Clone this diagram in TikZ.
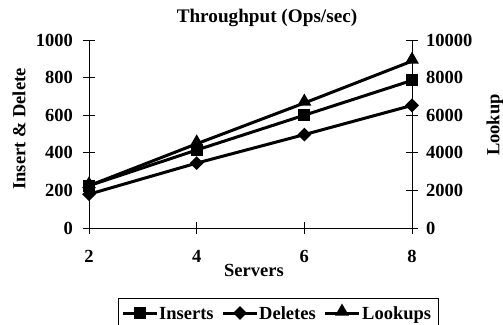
\documentclass[tikz,border=0pt]{standalone}
\usepackage{fontspec}
\setmainfont{Liberation Serif}
\usetikzlibrary{shapes.geometric}
\begin{document}
\begin{tikzpicture}[x=1bp,y=-1bp,
  font=\fontsize{18.5bp}{20bp}\selectfont\bfseries,
  dataline/.style={line width=3bp, line join=round},
  axisline/.style={line width=0.8bp},
  sqmark/.style={fill=black, rectangle, minimum size=12bp, inner sep=0pt},
  diamark/.style={fill=black, diamond, minimum size=14bp, inner sep=0pt},
  trimark/.style={fill=black, regular polygon, regular polygon sides=3, minimum size=16bp, inner sep=0pt},
  ticklabel/.style={inner sep=1pt},
  legtext/.style={anchor=base west, inner sep=1pt}]
\useasboundingbox (0,0) rectangle (503,324);
% axes
\coordinate (o) at (89,228);
\coordinate (lt) at (89,40);
\coordinate (r0) at (412,228);
\coordinate (rt) at (412,40);
\draw[axisline] (lt) -- (o) -- (r0) -- (rt);
% left / right ticks
\foreach \k/\lv/\rv in {0/0/0,1/200/2000,2/400/4000,3/600/6000,4/800/8000,5/1000/10000}{
  \pgfmathsetmacro{\yy}{228-37.6*\k}
  \draw[axisline] (83,\yy) -- (95,\yy);
  \draw[axisline] (406,\yy) -- (418,\yy);
  \node[ticklabel, anchor=east] (ll\k) at (74,\yy) {\lv};
  \node[ticklabel, anchor=west] (rl\k) at (425,\yy) {\rv};
}
% x ticks
\foreach \k/\s in {0/2,1/4,2/6,3/8}{
  \pgfmathsetmacro{\xx}{89+107.667*\k}
  \draw[axisline] (\xx,222) -- (\xx,234);
  \node[ticklabel] (xl\k) at (\xx,256) {\s};
}
% titles
\node[font=\fontsize{19.2bp}{21bp}\selectfont\bfseries] (title) at (267,18) {Throughput (Ops/sec)};
\node (xtitle) at (254,270) {Servers};
\node[rotate=90] (ltitle) at (19,129) {Insert \& Delete};
\node[rotate=90] (rtitle) at (495,125) {Lookup};
% data points
\coordinate (i1) at (89,185.7);
\coordinate (i2) at (196.67,150.0);
\coordinate (i3) at (304.33,115.2);
\coordinate (i4) at (412,80.4);
\coordinate (d1) at (89,194.2);
\coordinate (d2) at (196.67,163.1);
\coordinate (d3) at (304.33,134.6);
\coordinate (d4) at (412,105.4);
\coordinate (l1) at (89,185.7);
\coordinate (l2) at (196.67,143.8);
\coordinate (l3) at (304.33,103.0);
\coordinate (l4) at (412,61.1);
\draw[dataline] (d1) -- (d2) -- (d3) -- (d4);
\draw[dataline] (i1) -- (i2) -- (i3) -- (i4);
\draw[dataline] (l1) -- (l2) -- (l3) -- (l4);
\foreach \n in {1,2,3,4}{
  \node[diamark] (dm\n) at (d\n) {};
  \node[sqmark] (im\n) at (i\n) {};
  \node[trimark, yshift=1.5bp] (lm\n) at (l\n) {};
}
% legend
\draw[axisline] (118,298) rectangle (438,325);
\coordinate (ga) at (123,313); \coordinate (gb) at (157,313);
\coordinate (ha) at (223,313); \coordinate (hb) at (257,313);
\coordinate (ka) at (325,313); \coordinate (kb) at (359,313);
\draw[dataline] (ga) -- (gb);
\draw[dataline] (ha) -- (hb);
\draw[dataline] (ka) -- (kb);
\node[sqmark] (g1) at (140,313) {};
\node[diamark] (g2) at (240,313) {};
\node[trimark, yshift=1.5bp] (g3) at (342,313) {};
\node[legtext] (t1) at (158,319) {Inserts};
\node[legtext] (t2) at (258,319) {Deletes};
\node[legtext] (t3) at (361,319) {Lookups};
\end{tikzpicture}
\end{document}
